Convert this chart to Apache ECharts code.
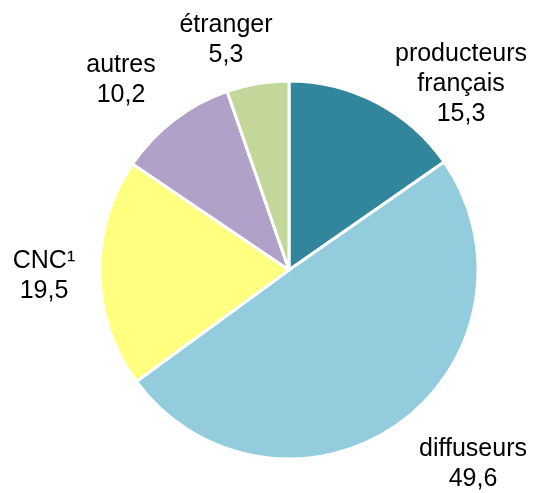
<!DOCTYPE html>
<html>
<head>
<meta charset="utf-8">
<script src="https://cdn.jsdelivr.net/npm/echarts@6/dist/echarts.min.js"></script>
<style>
  html, body { margin: 0; padding: 0; background: #fff; }
  #chart { width: 538px; height: 493px; }
</style>
</head>
<body>
<div id="chart"></div>
<script>
// parts du financement, en %
const names = ['producteurs\nfrançais', 'diffuseurs', 'CNC¹', 'autres', 'étranger']
const values = [15.3, 49.6, 19.5, 10.2, 5.3]
const colors = ['#31869B', '#93CDDD', '#FFFF80', '#B1A0C7', '#C4D79B']

// centre des étiquettes (px)
const labelPos = [[461, 84], [473, 464], [44, 276], [121, 80], [226, 40]]

const chart = echarts.init(document.getElementById('chart'), null, { renderer: 'canvas' })

const option = {
  animation: false,
  series: [
    {
      type: 'pie',
      center: [289, 270],
      radius: 189,
      startAngle: 90,
      clockwise: true,
      avoidLabelOverlap: false,
      data: names.map((n, i) => ({
        name: n,
        value: values[i],
        itemStyle: { color: colors[i] }
      })),
      itemStyle: {
        borderColor: '#fff',
        borderWidth: 3
      },
      label: {
        show: true,
        position: 'outside',
        overflow: 'none',
        fontFamily: 'Liberation Sans, Arial, sans-serif',
        fontSize: 25,
        lineHeight: 30,
        color: '#000',
        align: 'center',
        formatter: p => p.name + '\n' + p.value.toFixed(1).replace('.', ',')
      },
      labelLine: { show: false },
      labelLayout: params => {
        const p = labelPos[params.dataIndex]
        return { x: p[0], y: p[1], align: 'center', verticalAlign: 'middle' }
      },
      emphasis: { disabled: true }
    }
  ]
}
chart.setOption(option)
</script>
</body>
</html>
